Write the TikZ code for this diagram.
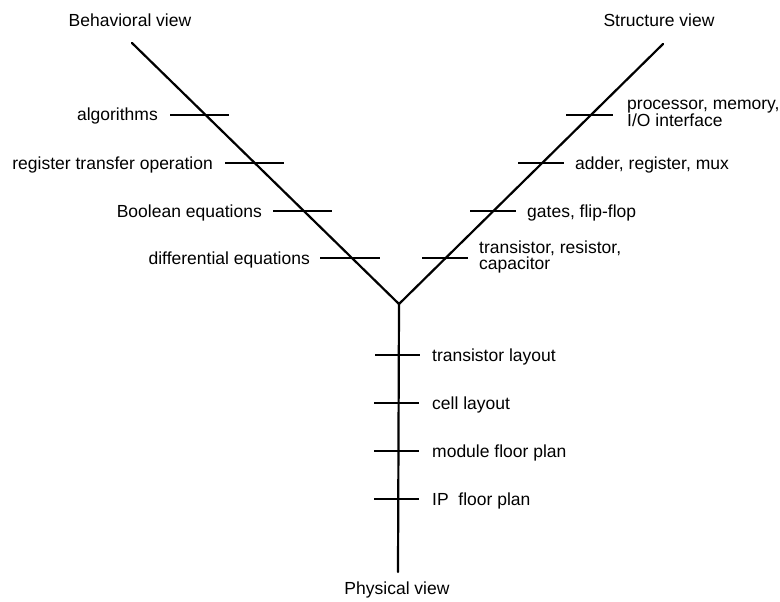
\documentclass[tikz,border=0pt]{standalone}
\usepackage{fontspec}
\setmainfont{Liberation Sans}
\begin{document}
\begin{tikzpicture}[x=1pt,y=-1pt,
  axis/.style={line width=2.2pt,line cap=round,line join=miter},
  tick/.style={line width=1.9pt},
  lab/.style={inner sep=0pt,font=\fontsize{17.5}{14}\selectfont},
  leftlab/.style={lab,anchor=base east},
  rightlab/.style={lab,anchor=base west,align=left},
  title/.style={lab,anchor=base}]
\useasboundingbox (0,0) rectangle (780,602);

% the three axes of the Y-chart
\coordinate (btop) at (132,43);
\coordinate (stop) at (663,44);
\coordinate (hub)  at (399,304);
\coordinate (pbot) at (398,572);
\draw[axis] (btop) -- (hub) -- (stop);
\draw[axis] (hub) -- (pbot);

% axis titles
\node[title] (tb) at (130,27) {Behavioral view};
\node[title] (ts) at (659,27) {Structure view};
\node[title] (tp) at (397,594) {Physical view};

% behavioral levels
\draw[tick] (170,115) -- (229,115);
\draw[tick] (225,163) -- (284,163);
\draw[tick] (273,211) -- (332,211);
\draw[tick] (320,258) -- (380,258);
\node[leftlab] (b1) at (158,121) {algorithms};
\node[leftlab] (b2) at (213,169) {register transfer operation};
\node[leftlab] (b3) at (262,217) {Boolean equations};
\node[leftlab] (b4) at (310,264) {differential equations};

% structural levels (two-line labels are anchored on their last line)
\draw[tick] (566,115) -- (613,115);
\draw[tick] (518,163) -- (564,163);
\draw[tick] (470,211) -- (516,211);
\draw[tick] (422,258) -- (468,258);
\node[rightlab] (s1) at (627,127) {processor, memory,\\I/O interface};
\node[rightlab] (s2) at (575,169) {adder, register, mux};
\node[rightlab] (s3) at (527,217) {gates, flip-flop};
\node[rightlab,font=\fontsize{17.5}{16}\selectfont] (s4) at (479,269) {transistor, resistor,\\capacitor};

% physical levels
\draw[tick] (375,355) -- (420,355);
\draw[tick] (374,403) -- (419,403);
\draw[tick] (374,451) -- (419,451);
\draw[tick,line width=2.6pt] (374,499) -- (419,499);
\node[rightlab] (p1) at (432,361) {transistor layout};
\node[rightlab] (p2) at (432,409) {cell layout};
\node[rightlab] (p3) at (432,457) {module floor plan};
\node[rightlab] (p4) at (432,505) {IP\ \ floor plan};
\end{tikzpicture}
\end{document}
